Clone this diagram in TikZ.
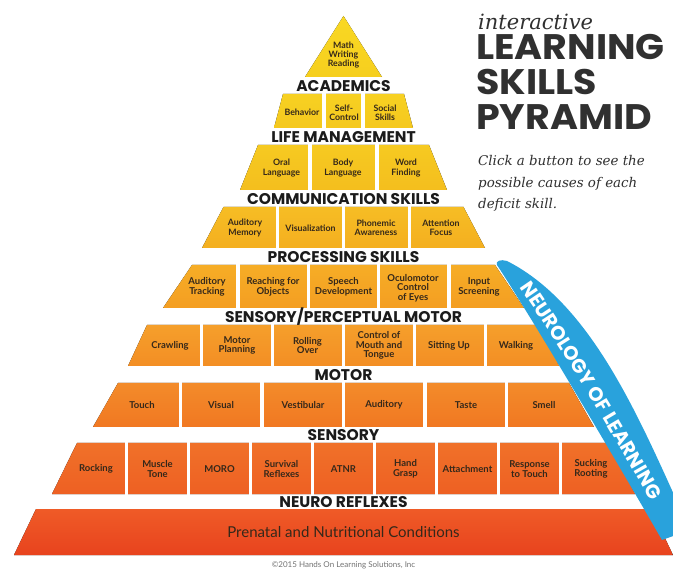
\documentclass[tikz,border=0pt]{standalone}
\usepackage{fontspec}
\setmainfont{Lato}
\newfontfamily\headfont{Poppins}
\newfontfamily\titlefont{Poppins}[FakeStretch=1.07]
\newfontfamily\cellfont{Lato}
\newfontfamily\serifit{DejaVu Serif}
\usetikzlibrary{decorations.text}

% tier colours, top and bottom of each band
\definecolor{tAtop}{HTML}{F9D823}\definecolor{tAbot}{HTML}{F6CF1E}
\definecolor{tBtop}{HTML}{F7D122}\definecolor{tBbot}{HTML}{F5C81E}
\definecolor{tCtop}{HTML}{F6CA21}\definecolor{tCbot}{HTML}{F4BE1E}
\definecolor{tDtop}{HTML}{F6BD24}\definecolor{tDbot}{HTML}{F4AF20}
\definecolor{tEtop}{HTML}{F6AD26}\definecolor{tEbot}{HTML}{F49E22}
\definecolor{tFtop}{HTML}{F59F2B}\definecolor{tFbot}{HTML}{F38E24}
\definecolor{tGtop}{HTML}{F38B2A}\definecolor{tGbot}{HTML}{F17822}
\definecolor{tHtop}{HTML}{F07129}\definecolor{tHbot}{HTML}{EE6023}
\definecolor{tItop}{HTML}{EF5B27}\definecolor{tIbot}{HTML}{E8431E}
\definecolor{bandblue}{HTML}{29A2DC}
\definecolor{celltext}{HTML}{35281A}
\definecolor{headtext}{HTML}{1B1B1B}
\definecolor{titlegray}{HTML}{303030}

% one trapezoid band: top y, bottom y, top half width, bottom half width, colours
\newcommand\pyrtier[6]{%
  \fill[top color=#5,bottom color=#6] ({343.5-#3},#1) -- ({343.5+#3},#1)
    -- ({343.5+#4},#2) -- ({343.5-#4},#2) -- cycle;}
% white gaps splitting a band into cells
\newcommand\pyrgaps[3]{%
  \foreach \gx in {#3} {\fill[white] ({\gx-1.6},{#1-1}) rectangle ({\gx+1.6},{#2+1});}}

\tikzset{
  cell/.style={font=\cellfont\bfseries\fontsize{9.5}{9.6}\selectfont,
    text=celltext, align=center, inner sep=0pt},
  cellsm/.style={cell, font=\cellfont\bfseries\fontsize{8.8}{9.4}\selectfont},
  tierhead/.style={font=\headfont\bfseries\fontsize{15.5}{15.5}\selectfont,
    text=headtext, inner sep=0pt},
  bigtitle/.style={font=\titlefont\bfseries\fontsize{35.5}{35.5}\selectfont,
    text=titlegray, inner sep=0pt, anchor=base west},
  subtitle/.style={font=\serifit\itshape\fontsize{13.4}{13.4}\selectfont,
    text=titlegray, inner sep=0pt, anchor=base west},
}

\begin{document}
\begin{tikzpicture}[x=1pt,y=-1pt]
\useasboundingbox (0,0) rectangle (673,572);
\fill[white] (0,0) rectangle (673,572);

% apex
\fill[top color=tAtop,bottom color=tAbot] (343.5,16) -- (382,77) -- (305,77) -- cycle;
% bands of the pyramid
\pyrtier{94}{128}{60.5}{69.5}{tBtop}{tBbot}
\pyrtier{145}{190}{85.5}{103.5}{tCtop}{tCbot}
\pyrtier{207}{248}{120}{141.5}{tDtop}{tDbot}
\pyrtier{265}{308}{151.5}{180.5}{tEtop}{tEbot}
\pyrtier{325}{366}{196.5}{215.5}{tFtop}{tFbot}
\pyrtier{383}{427}{225.5}{250.5}{tGtop}{tGbot}
\pyrtier{443}{494}{266.5}{291.5}{tHtop}{tHbot}
\pyrtier{509}{555}{307.5}{329.5}{tItop}{tIbot}

% cell gaps
\pyrgaps{94}{128}{324,363}
\pyrgaps{145}{190}{310,377}
\pyrgaps{207}{248}{277.5,343.5,409.5}
\pyrgaps{265}{308}{238,308.5,378.5,449}
\pyrgaps{325}{366}{201.5,272.5,343.5,414.5,485.5}
\pyrgaps{383}{427}{180.5,262,343.5,425,506.5}
\pyrgaps{443}{494}{126.5,188.5,250.5,312.5,374.5,436.5,498.5,560.5}

% cell labels
\node[cellsm] (math) at (343.5,55) {Math\\Writing\\Reading};

\node[cellsm] (behav) at (302,112.5) {Behavior};
\node[cellsm] (selfc) at (344,112.5) {Self-\\Control};
\node[cellsm] (socsk) at (385,112.5) {Social\\Skills};

\node[cellsm] (oral) at (281.5,168) {Oral\\Language};
\node[cellsm] (body) at (343,168) {Body\\Language};
\node[cellsm] (word) at (406,168) {Word\\Finding};

\node[cellsm] (audmem) at (245,228) {Auditory\\Memory};
\node[cellsm] (visual) at (310.5,228) {Visualization};
\node[cellsm] (phonem) at (376,228) {Phonemic\\Awareness};
\node[cellsm] (attent) at (441,228) {Attention\\Focus};

\node[cell] (audtrk) at (207,287) {Auditory\\Tracking};
\node[cell] (reach) at (273,287) {Reaching for\\Objects};
\node[cell] (speech) at (343.5,287) {Speech\\Development};
\node[cell] (oculo) at (413,288) {Oculomotor\\Control\\of Eyes};
\node[cell] (input) at (479,287) {Input\\Screening};

\node[cell] (crawl) at (170,345.5) {Crawling};
\node[cell] (motplan) at (237,345.5) {Motor\\Planning};
\node[cell] (roll) at (307.5,345.5) {Rolling\\Over};
\node[cell] (mouth) at (379,345.5) {Control of\\Mouth and\\Tongue};
\node[cell] (sit) at (449,345.5) {Sitting Up};
\node[cell] (walk) at (516,345.5) {Walking};

\node[cell] (touch) at (142,405) {Touch};
\node[cell] (vis) at (221,405) {Visual};
\node[cell] (vest) at (303,405) {Vestibular};
\node[cell] (audit) at (384,405) {Auditory};
\node[cell] (taste) at (466,405) {Taste};
\node[cell] (smell) at (544,405) {Smell};

\node[cell] (rock) at (96,469) {Rocking};
\node[cell] (muscle) at (157.5,469) {Muscle\\Tone};
\node[cell] (moro) at (219.5,469) {MORO};
\node[cell] (surv) at (281.5,469) {Survival\\Reflexes};
\node[cell] (atnr) at (343.5,469) {ATNR};
\node[cell] (hand) at (405.5,469) {Hand\\Grasp};
\node[cell] (attach) at (467.5,469) {Attachment};
\node[cell] (resp) at (529.5,469) {Response\\to Touch};
\node[cell] (suck) at (591,469) {Sucking\\Rooting};

\node[font=\cellfont\fontsize{15}{15}\selectfont, text=celltext, inner sep=0pt]
  (prenatal) at (343.5,532) {Prenatal and Nutritional Conditions};

% band headings
\node[tierhead] (hAcad) at (343.5,86) {ACADEMICS};
\node[tierhead] (hLife) at (343.5,137) {LIFE MANAGEMENT};
\node[tierhead] (hComm) at (343.5,199) {COMMUNICATION SKILLS};
\node[tierhead] (hProc) at (343.5,257) {PROCESSING SKILLS};
\node[tierhead] (hSens) at (343.5,317) {SENSORY/PERCEPTUAL MOTOR};
\node[tierhead] (hMot) at (343.5,375) {MOTOR};
\node[tierhead] (hSory) at (343.5,435.5) {SENSORY};
\node[tierhead] (hNeur) at (343.5,502) {NEURO REFLEXES};

% blue arc along the right flank
\begin{scope}
\clip (0,0) rectangle (673,572);
\fill[bandblue] (497,265) .. controls (530,315) and (610,450) .. (662,540)
  -- (690,530) .. controls (644,430) and (596,306) .. (507,261)
  .. controls (501,259) and (495,261) .. (497,265) -- cycle;
\path[decorate, decoration={text along path,
    text={|\headfont\bfseries\fontsize{19.5}{19.5}\selectfont|NEUROLOGY OF LEARNING},
    text align=left, text align/left indent=10pt, text color=white}]
  (514,279) .. controls (555,337) and (618,440) .. (672,540);
\end{scope}

% title block
\node[font=\serifit\itshape\fontsize{21}{21}\selectfont, text=titlegray,
  inner sep=0pt, anchor=base west] (tInter) at (478,30) {interactive};
\node[bigtitle] (tLearn) at (476,60) {LEARNING};
\node[bigtitle] (tSkill) at (476,95) {SKILLS};
\node[bigtitle] (tPyr) at (476,130) {PYRAMID};
\node[subtitle] (sub1) at (478,166) {Click a button to see the};
\node[subtitle] (sub2) at (478,188) {possible causes of each};
\node[subtitle] (sub3) at (478,209) {deficit skill.};

% footer
\node[font=\cellfont\fontsize{8}{8}\selectfont, text=black!55, inner sep=0pt]
  (copy) at (343.5,565) {\textcopyright2015 Hands On Learning Solutions, Inc};
\end{tikzpicture}
\end{document}
